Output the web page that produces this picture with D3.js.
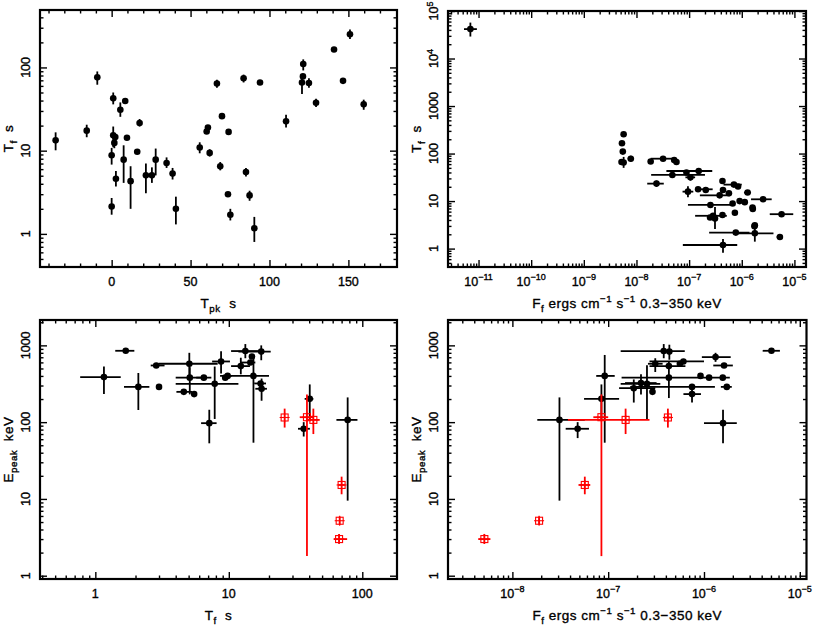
<!DOCTYPE html>
<html><head><meta charset="utf-8">
<script src="https://cdn.jsdelivr.net/npm/d3@7"></script>
<style>body{margin:0;background:#fff} text{font-family:"Liberation Sans",Arial,Helvetica,sans-serif;fill:#000;stroke:#000;stroke-width:0.35px}</style>
</head><body><svg id="c" width="817" height="629"></svg>
<script>
const n = null;
// ---------- Panel 1: Tpk vs Tf ----------
const p1Tpk  = [-35.5,-15.8,-9.1,1.0,8.6,5.5,17.7,1.0,2.3,9.7,1.7,0,7.6,16.2,27.9,34.8,2.7,12.0,21.7,25.5,38.6,0,40.7,55.8,60.2,61,62.1,66.7,69.9,68.8,74.1,73.7,75.2,83.6,85.1,87.4,90.4,94,110.5,120.6,121.2,121.4,125,129.5,140.9,146.6,151,159.7];
const p1Tf   = [13.3,17.4,76,42.5,39.5,31,21.5,15.3,14.6,14.3,12.4,8.8,7.8,9.7,7.8,7.1,4.6,4.3,5.05,5.05,5.3,2.13,2.0,10.9,17,19,9.4,64,26,6.5,16.8,3.0,1.7,74,5.55,2.9,1.17,66,22.5,66,78,110,65,37.7,164,69,251,36];
const p1TfLo = [10.1,14.5,62,36,n,25.5,19.5,11,n,n,10.7,6.8,4.1,n,5.05,6.2,3.7,2.0,3.07,4.1,4.5,1.7,1.3,9.3,n,n,8.5,57,n,5.8,n,n,1.45,66,4.9,2.5,0.8,n,19,48,n,92,57,33.5,n,n,220,31];
const p1TfHi = [16.6,20.5,89.5,50,n,38,24,19.5,n,n,14.2,10.8,11.6,n,10.6,8.3,5.7,6.5,7.0,6.3,6.2,2.7,2.8,12.6,n,n,10.4,71,n,7.3,n,n,2.0,82,6.2,3.3,1.6,n,27,80,n,125,74,42,n,n,285,41];

// ---------- Panel 2: Ff vs Tf ----------
const p2Flux   = [7e-12,5.7e-9,5.3e-9,5.5e-9,5.2e-9,5.7e-9,7.8e-9,1.86e-8,3.2e-8,5.2e-8,5.75e-8,1.52e-7,8.9e-8,4.8e-8,1.06e-7,2.4e-8,9.5e-8,1.48e-7,2.07e-7,4.3e-7,7.1e-7,8.5e-7,4.4e-7,1.29e-6,2.54e-6,5.7e-7,3.8e-7,2.54e-7,6.7e-7,9.1e-7,1.14e-6,1.6e-6,1.62e-6,7.4e-7,4.3e-7,2.85e-7,3.1e-7,2.5e-7,1.77e-6,1.74e-6,5.7e-6,7.7e-7,1.77e-6,5.3e-6,4.4e-7];
const p2Tf     = [41600,255,165,110,66.5,65,78,68,78,73,66.5,43,40,35.5,31.6,23.3,15.8,17.7,17.1,26.5,22.2,20.2,17.1,15.1,10.9,14.6,13.2,8.3,8.9,10,9.5,7.3,6.8,5.7,5.1,4.9,4.3,4.5,3.1,2.95,5.3,2.17,2.1,1.75,1.19];
const p2FluxLo = [5.3e-12,n,n,n,4.7e-9,5.2e-9,6.8e-9,n,1.86e-8,n,n,3.7e-8,n,1.9e-8,8.5e-8,1.6e-8,7.5e-8,1.3e-7,n,n,4.5e-7,n,n,1.1e-6,1.5e-6,n,1.6e-7,9.5e-8,n,n,n,n,n,n,n,1.3e-7,n,n,n,n,3.4e-6,2.4e-7,7e-7,4.6e-6,7.6e-8];
const p2FluxHi = [9.3e-12,n,n,n,5.8e-9,6.3e-9,9e-9,n,5.7e-8,n,n,2.75e-7,n,2.0e-7,1.3e-7,3.3e-8,1.2e-7,2.8e-7,n,n,1.0e-6,n,n,1.5e-6,3.7e-6,n,6e-7,7.5e-7,n,n,n,n,n,n,n,5.2e-7,n,n,n,n,9.5e-6,1.4e-6,4e-6,6e-6,8.2e-7];
const p2TfLo   = [29000,n,n,n,n,50,68,n,70,n,n,n,n,n,27,20,12,n,n,n,n,n,n,n,n,n,n,n,n,n,n,n,n,n,n,n,2.6,n,n,n,n,n,1.4,n,0.82];
const p2TfHi   = [57000,n,n,n,n,85,90,n,88,n,n,n,n,n,37,27,20.5,n,n,n,n,n,n,n,n,n,n,n,n,n,n,n,n,n,n,n,7.5,n,n,n,n,n,3.0,n,1.6];

// ---------- Panel 3: Tf vs Epeak ----------
const p3Tf   = [1.16,1.69,2.1,2.86,3.0,5.06,5.1,4.6,5.5,6.5,7.14,8.75,7.84,9.4,9.8,12.3,13.3,14.9,14.5,15.3,17.5,17.3,17.6,40.4,36.4,77.7];
const p3Ep   = [386,850,288,547,288,576,380,248,232,380,97,617,316,380,400,537,843,716,598,400,830,319,272,201,82,107];
const p3TfLo = [0.77,1.41,1.64,2.6,n,2.98,4.0,4.05,n,5.7,6.2,7.5,4.0,n,9.1,10.4,10.4,n,12.3,8.6,11.8,15.5,15.8,37,33,64];
const p3TfHi = [1.55,1.96,2.54,3.3,n,8.25,6.76,5.3,n,7.4,8.1,10.2,11.8,n,10.5,14.4,16.9,n,15.8,20,20.6,19,19.3,43,40.5,92];
const p3EpLo = [232,n,144,n,n,400,230,n,n,n,53,430,110,n,n,420,680,n,n,54,640,n,190,110,65,9.5];
const p3EpHi = [530,n,437,n,n,800,520,n,n,n,145,840,530,n,n,690,1040,n,n,700,1000,n,370,310,100,210];
const p3rTf   = [26.2,38.5,43,70,67.7,67];
const p3rEp   = [115,116,107,15.2,5.2,3.0];
const p3rTfLo = [n,34,38.5,66,n,61];
const p3rTfHi = [n,43,48,74,n,77];
const p3rEpLo = [85,1.8,70,11.5,4.6,2.6];
const p3rEpHi = [150,230,150,19.5,5.9,3.5];

// ---------- Panel 4: Ff vs Epeak ----------
const p4Flux   = [5.06e-6,1.32e-6,1.62e-6,1.73e-6,1.57e-6,1.13e-6,9.2e-7,1.58e-6,7.5e-7,7.5e-7,6.1e-7,5.6e-7,3.8e-7,4.35e-7,4.3e-7,3.1e-7,4.3e-7,2.9e-7,2.54e-7,2.2e-7,1.85e-7,9.2e-8,8.5e-8,4.8e-8,3.1e-8];
const p4Ep     = [850,703,547,288,380,380,400,97,288,232,617,576,843,830,537,576,380,248,316,323,277,400,201,82,107];
const p4FluxLo = [4.1e-6,9.5e-7,1.25e-6,1.5e-6,n,n,n,1.0e-6,1.7e-7,6.1e-7,2.7e-7,n,1.35e-7,n,2.7e-7,2.6e-7,1.38e-7,n,1.35e-7,1.5e-7,1.3e-7,7.5e-8,5.6e-8,3.6e-8,1.82e-8];
const p4FluxHi = [6.2e-6,1.9e-6,2.0e-6,1.95e-6,n,n,n,2.2e-6,1.3e-6,9.3e-7,1.0e-6,n,6.3e-7,n,6.4e-7,3.7e-7,1.86e-6,n,3.5e-7,3.2e-7,3.1e-7,1.17e-7,1.3e-7,6.3e-8,5.7e-8];
const p4EpLo   = [n,610,n,n,n,n,n,53,n,180,n,n,680,650,n,450,206,n,110,230,180,54,110,62,9.5];
const p4EpHi   = [n,800,n,n,n,n,n,145,n,300,n,n,1040,1020,n,680,620,n,550,420,360,750,310,100,210];
const p4rFlux   = [5.1e-9,1.9e-8,5.7e-8,8.5e-8,1.52e-7,4.2e-7];
const p4rEp     = [3.0,5.2,15.2,116,107,115];
const p4rFluxLo = [4.4e-9,n,4.9e-8,7e-8,3.8e-8,3.9e-7];
const p4rFluxHi = [5.9e-9,n,6.5e-8,1.0e-7,2.7e-7,4.5e-7];
const p4rEpLo   = [2.6,4.6,11.5,1.8,70,85];
const p4rEpHi   = [3.5,5.9,19.5,230,150,150];

// ---------- tick labels ----------
const linTicks1 = [0,50,100,150];
const linMinor1 = [-40,-30,-20,-10,10,20,30,40,60,70,80,90,110,120,130,140,160,170];

// ---------- drawing ----------
const svg = d3.select("#c");
const TICK_FS = 12.5, TITLE_FS = 13.5;

function logMinor(dom){
  const out=[]; const a=Math.floor(Math.log10(dom[0])), b=Math.ceil(Math.log10(dom[1]));
  for(let k=a;k<=b;k++) for(let m=2;m<=9;m++){const v=m*Math.pow(10,k); if(v>dom[0]&&v<dom[1]) out.push(v);}
  return out;
}
function logMajor(dom){
  const out=[]; const a=Math.ceil(Math.log10(dom[0])-1e-9), b=Math.floor(Math.log10(dom[1])+1e-9);
  for(let k=a;k<=b;k++) out.push(Math.pow(10,k)); return out;
}
function decadeParts(v){
  const e=Math.round(Math.log10(v));
  if(e>=0 && e<=3) return [{t:String(Math.pow(10,e))}];
  return [{t:"10"},{t:(e<0?"\u2212":"")+Math.abs(e),sup:true}];
}
function richText(sel, parts, fs){
  let shift=0;
  parts.forEach(p=>{
    const ts=sel.append("tspan").text(p.t);
    let target=0, size=fs;
    if(p.sup){target=-0.42*fs; size=0.72*fs;}
    if(p.sub){target=0.28*fs; size=0.72*fs;}
    ts.attr("font-size",size).attr("dy",(target-shift).toFixed(2));
    shift=target;
  });
}

function panel(o){
  const g=svg.append("g");
  const x=o.x.range([o.l,o.r]), y=o.y.range([o.b,o.t]);
  const MAJ=7, MIN=3.5;
  const ax=(fn,scale,vals,size,tr)=>{
    const a=g.append("g").attr("transform",tr).call(fn(scale).tickValues(vals).tickSize(size).tickFormat(""));
    a.select(".domain").remove();
    a.selectAll("line").attr("stroke","#000").attr("stroke-width",1.4);
  };
  ax(d3.axisBottom,x,o.xMaj,-MAJ,`translate(0,${o.b})`);
  ax(d3.axisBottom,x,o.xMin,-MIN,`translate(0,${o.b})`);
  ax(d3.axisTop,x,o.xMaj,-MAJ,`translate(0,${o.t})`);
  ax(d3.axisTop,x,o.xMin,-MIN,`translate(0,${o.t})`);
  ax(d3.axisLeft,y,o.yMaj,-MAJ,`translate(${o.l},0)`);
  ax(d3.axisLeft,y,o.yMin,-MIN,`translate(${o.l},0)`);
  ax(d3.axisRight,y,o.yMaj,-MAJ,`translate(${o.r},0)`);
  ax(d3.axisRight,y,o.yMin,-MIN,`translate(${o.r},0)`);
  g.append("rect").attr("x",o.l).attr("y",o.t).attr("width",o.r-o.l).attr("height",o.b-o.t)
    .attr("fill","none").attr("stroke","#000").attr("stroke-width",2.2);
  // tick labels
  o.xMaj.forEach(v=>{
    const t=g.append("text").attr("x",x(v)).attr("y",o.b+18.5).attr("text-anchor","middle").attr("font-size",TICK_FS);
    richText(t,o.xFmt(v),TICK_FS);
  });
  o.yMaj.forEach(v=>{
    const t=g.append("text").attr("transform",`translate(${o.l-10},${y(v)}) rotate(-90)`).attr("text-anchor","middle").attr("font-size",TICK_FS);
    richText(t,o.yFmt(v),TICK_FS);
  });
  // titles
  const xt=g.append("text").attr("x",(o.l+o.r)/2).attr("y",o.b+41).attr("text-anchor","middle").attr("font-size",TITLE_FS).attr("letter-spacing",0.5);
  richText(xt,o.xTitle,TITLE_FS);
  const yt=g.append("text").attr("transform",`translate(${o.l-27},${(o.t+o.b)/2}) rotate(-90)`).attr("text-anchor","middle").attr("font-size",TITLE_FS).attr("letter-spacing",0.5);
  richText(yt,o.yTitle,TITLE_FS);
  // series
  o.series.forEach(s=>{
    const col=s.red?"#ff0000":"#000";
    const sg=g.append("g").attr("stroke",col).attr("stroke-width",1.8);
    s.x.forEach((xv,i)=>{
      const cx=x(xv), cy=y(s.y[i]);
      if(s.xlo[i]!=null) sg.append("line").attr("x1",x(s.xlo[i])).attr("x2",x(s.xhi[i])).attr("y1",cy).attr("y2",cy);
      if(s.ylo[i]!=null) sg.append("line").attr("x1",cx).attr("x2",cx).attr("y1",y(s.ylo[i])).attr("y2",y(s.yhi[i]));
    });
    s.x.forEach((xv,i)=>{
      const cx=x(xv), cy=y(s.y[i]);
      if(s.red){
        sg.append("rect").attr("x",cx-3.5).attr("y",cy-3.5).attr("width",7).attr("height",7).attr("fill","none").attr("stroke-width",1.1);
        sg.append("line").attr("x1",cx-5).attr("x2",cx+5).attr("y1",cy).attr("y2",cy).attr("stroke-width",1.1);
        sg.append("line").attr("x1",cx).attr("x2",cx).attr("y1",cy-5).attr("y2",cy+5).attr("stroke-width",1.1);
      } else {
        sg.append("circle").attr("cx",cx).attr("cy",cy).attr("r",3.3).attr("fill",col).attr("stroke","none");
      }
    });
  });
}

const nulls=a=>a.map(()=>null);
const fluxTitle=[{t:"F"},{t:"f",sub:true},{t:" ergs cm"},{t:"\u22121",sup:true},{t:" s"},{t:"\u22121",sup:true},{t:" 0.3\u2212350 keV"}];
const tfTitle=[{t:"T"},{t:"f",sub:true},{t:"\u00a0 s"}];
const epTitle=[{t:"E"},{t:"peak",sub:true},{t:"\u00a0 keV"}];

// Panel 1
const d1x=[-45.4,180.8], d1y=[0.4,490];
panel({l:40,r:397,t:10,b:267,
  x:d3.scaleLinear().domain(d1x), y:d3.scaleLog().domain(d1y),
  xMaj:linTicks1, xMin:linMinor1, yMaj:logMajor(d1y), yMin:logMinor(d1y),
  xFmt:v=>[{t:String(v)}], yFmt:decadeParts,
  xTitle:[{t:"T"},{t:"pk",sub:true},{t:"\u00a0 s"}], yTitle:tfTitle,
  series:[{x:p1Tpk,y:p1Tf,xlo:nulls(p1Tpk),xhi:nulls(p1Tpk),ylo:p1TfLo,yhi:p1TfHi}]});

// Panel 2
const d2x=[Math.pow(10,-11.58),Math.pow(10,-4.78)], d2y=[0.41,1e5];
panel({l:448,r:806,t:11,b:267,
  x:d3.scaleLog().domain(d2x), y:d3.scaleLog().domain(d2y),
  xMaj:logMajor(d2x), xMin:logMinor(d2x), yMaj:logMajor(d2y), yMin:logMinor(d2y),
  xFmt:decadeParts, yFmt:decadeParts, xTitle:fluxTitle, yTitle:tfTitle,
  series:[{x:p2Flux,y:p2Tf,xlo:p2FluxLo,xhi:p2FluxHi,ylo:p2TfLo,yhi:p2TfHi}]});

// Panel 3
const d3x=[0.385,182], d3y=[0.906,2140];
panel({l:40,r:397,t:320,b:579,
  x:d3.scaleLog().domain(d3x), y:d3.scaleLog().domain(d3y),
  xMaj:logMajor(d3x), xMin:logMinor(d3x), yMaj:logMajor(d3y), yMin:logMinor(d3y),
  xFmt:decadeParts, yFmt:decadeParts, xTitle:tfTitle, yTitle:epTitle,
  series:[{x:p3Tf,y:p3Ep,xlo:p3TfLo,xhi:p3TfHi,ylo:p3EpLo,yhi:p3EpHi},
          {red:true,x:p3rTf,y:p3rEp,xlo:p3rTfLo,xhi:p3rTfHi,ylo:p3rEpLo,yhi:p3rEpHi}]});

// Panel 4
const d4x=[Math.pow(10,-8.672),Math.pow(10,-4.93)], d4y=[0.906,2140];
panel({l:448,r:806.5,t:320,b:579,
  x:d3.scaleLog().domain(d4x), y:d3.scaleLog().domain(d4y),
  xMaj:logMajor(d4x), xMin:logMinor(d4x), yMaj:logMajor(d4y), yMin:logMinor(d4y),
  xFmt:decadeParts, yFmt:decadeParts, xTitle:fluxTitle, yTitle:epTitle,
  series:[{x:p4Flux,y:p4Ep,xlo:p4FluxLo,xhi:p4FluxHi,ylo:p4EpLo,yhi:p4EpHi},
          {red:true,x:p4rFlux,y:p4rEp,xlo:p4rFluxLo,xhi:p4rFluxHi,ylo:p4rEpLo,yhi:p4rEpHi}]});
</script></body></html>
